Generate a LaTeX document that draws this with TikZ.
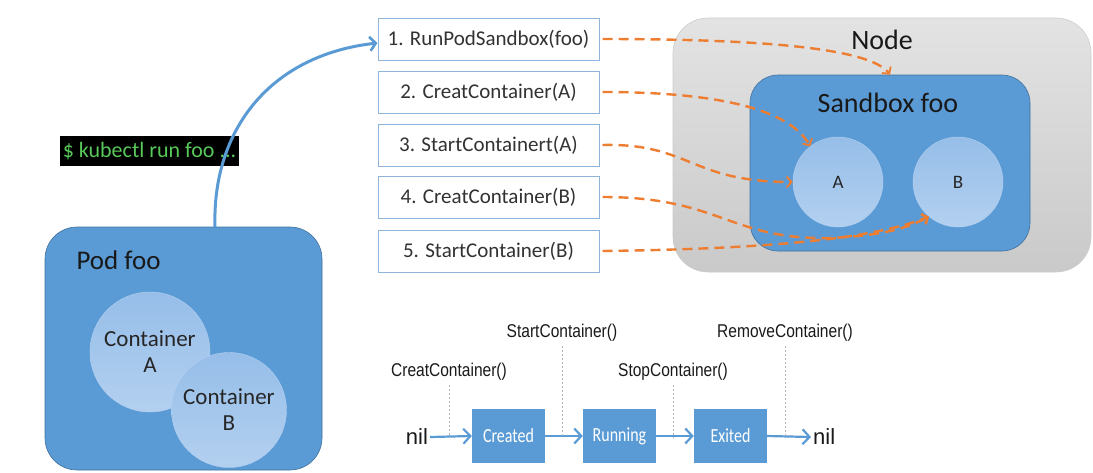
\documentclass[tikz,border=0pt]{standalone}
\usepackage{fontspec}
\setmainfont{Carlito}
\newfontfamily\narrowsans[FakeStretch=0.84]{Liberation Sans}
\newfontfamily\plainsans{Liberation Sans}
\newfontfamily\narrowcal[FakeStretch=0.8]{Carlito}
\usetikzlibrary{arrows.meta}
\definecolor{podblue}{RGB}{91,155,213}
\definecolor{podedge}{RGB}{65,113,156}
\definecolor{circblue}{RGB}{160,196,236}
\definecolor{stepedge}{RGB}{143,180,217}
\definecolor{orng}{RGB}{237,125,49}
\definecolor{cmdgreen}{RGB}{88,200,88}
\definecolor{txtgray}{RGB}{50,50,50}
\tikzset{
  bigbox/.style={draw=podedge, line width=0.6pt, fill=podblue, rounded corners=#1, inner sep=0pt},
  bigbox/.default=30pt,
  circ/.style={circle, top color=circblue!85!podblue, bottom color=circblue!80!white, draw=circblue!80!white, inner sep=0pt, align=center, text=black!85},
  stepbox/.style={draw=stepedge, line width=1pt, fill=white, minimum width=221pt, minimum height=42pt, inner sep=0pt, font=\fontsize{21}{24}\selectfont, text=txtgray},
  orarrow/.style={draw=orng, line width=2.4pt, dash pattern=on 10pt off 6pt, -{Straight Barb[length=5pt,width=11pt,line width=1.8pt]}},
  bluearrow/.style={draw=podblue, line width=2.2pt, -{Straight Barb[length=7pt,width=15pt,line width=2.2pt]}},
  bigarrow/.style={draw=podblue, line width=3pt, -{Straight Barb[length=6pt,width=14pt,line width=2.6pt]}},
  statebox/.style={fill=podblue, minimum width=73pt, minimum height=54pt, inner sep=0pt, text=white, font=\narrowcal\fontsize{20}{22}\selectfont},
  calllabel/.style={font=\narrowsans\fontsize{18.5}{20}\selectfont, text=black!90, inner sep=1pt},
  dotline/.style={draw=black!30, line width=0.7pt, dash pattern=on 2pt off 2pt},
  nillabel/.style={font=\plainsans\fontsize{22}{24}\selectfont, text=black!90, inner sep=2pt}
}
\begin{document}
\begin{tikzpicture}[x=1pt,y=-1pt]
\useasboundingbox (0,0) rectangle (1093,472);
% Pod foo
\node[bigbox=32pt, minimum width=277pt, minimum height=243pt] (pod) at (183.5,348.5) {};
\node[anchor=west, font=\fontsize{27}{29}\selectfont, text=black!90] (podlbl) at (73,260) {Pod foo};
\node[circ, minimum size=120pt, font=\fontsize{23}{26}\selectfont] (ca) at (150,352) {Container\\A};
\node[circ, minimum size=115pt, font=\fontsize{23}{26}\selectfont] (cb) at (229,410) {Container\\B};
% command
\node[fill=black, minimum width=179pt, minimum height=30pt, inner sep=0pt, text=cmdgreen, font=\fontsize{22}{24}\selectfont] (cmd) at (149.5,151) {\$ kubectl run foo ...};
% Node box
\node[draw=black!20, line width=0.6pt, top color=black!11, bottom color=black!21, rounded corners=35pt, minimum width=418pt, minimum height=254pt, inner sep=0pt] (nodebox) at (882,145) {};
\node[font=\fontsize{28}{30}\selectfont, text=black!90] (nodelbl) at (882,40) {Node};
\node[bigbox=28pt, minimum width=280pt, minimum height=176pt] (sb) at (890,163) {};
\node[font=\fontsize{28}{30}\selectfont, text=black!90] (sblbl) at (888,103) {Sandbox foo};
\node[circ, minimum size=90pt, font=\fontsize{19}{21}\selectfont] (sa) at (838,182) {A};
\node[circ, minimum size=90pt, font=\fontsize{19}{21}\selectfont] (sbb) at (958,182) {B};
% steps
\node[stepbox] (s1) at (488.5,39) {1. RunPodSandbox(foo)};
\node[stepbox] (s2) at (488.5,92) {2. CreatContainer(A)};
\node[stepbox] (s3) at (488.5,145) {3. StartContainert(A)};
\node[stepbox] (s4) at (488.5,197) {4. CreatContainer(B)};
\node[stepbox] (s5) at (488.5,251) {5. StartContainer(B)};
% blue arrow
\coordinate (podtop) at (215,227);
\draw[bigarrow] (podtop) .. controls (212,130) and (270,55) .. ([yshift=-4pt]s1.west);
% orange arrows
\draw[orarrow] ([xshift=3pt]s1.east) .. controls (760,39) and (870,48) .. (sb.north);
\draw[orarrow] ([xshift=3pt]s2.east) .. controls (720,92) and (790,110) .. (sa.128);
\draw[orarrow] ([xshift=3pt]s3.east) .. controls (690,143) and (690,182) .. (sa.west);
\draw[orarrow] ([xshift=3pt]s4.east) .. controls (720,197) and (730,240) .. (830,238) .. controls (870,236) and (900,232) .. (sbb.230);
\draw[orarrow] ([xshift=3pt]s5.east) .. controls (760,249) and (870,240) .. (sbb.230);
% lifecycle
\node[nillabel] (nil1) at (417,437) {nil};
\node[statebox] (created) at (508.5,436) {Created};
\node[statebox] (running) at (619.5,436) {Running};
\node[statebox] (exited) at (730.5,436) {Exited};
\node[nillabel, anchor=west] (nil2) at (811,437) {nil};
\draw[bluearrow] (nil1.east) -- (created.west);
\draw[bluearrow] (created.east) -- (running.west);
\draw[bluearrow] (running.east) -- (exited.west);
\draw[bluearrow] (exited.east) -- (nil2.west);
\node[calllabel] (l1) at (449,372) {CreatContainer()};
\node[calllabel] (l2) at (562,333) {StartContainer()};
\node[calllabel] (l3) at (673,372) {StopContainer()};
\node[calllabel] (l4) at (785,333) {RemoveContainer()};
\draw[dotline] ([yshift=-3pt]l1.south) -- (l1.south |- nil1.center);
\draw[dotline] ([yshift=-3pt]l2.south) -- (l2.south |- nil1.center);
\draw[dotline] ([yshift=-3pt]l3.south) -- (l3.south |- nil1.center);
\draw[dotline] ([yshift=-3pt]l4.south) -- (l4.south |- nil1.center);
\end{tikzpicture}
\end{document}
